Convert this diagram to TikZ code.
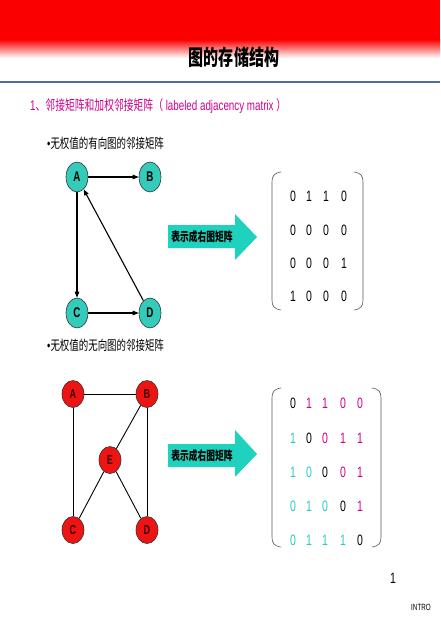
\documentclass[tikz,border=0pt]{standalone}
\usepackage{fontspec}
\setmainfont[FakeStretch=0.7]{Liberation Sans}
\newfontfamily\cjk[FakeStretch=0.7]{Noto Sans CJK SC}
\usetikzlibrary{shapes.geometric,arrows.meta}
\definecolor{hdred}{RGB}{250,0,0}
\definecolor{rule}{RGB}{80,105,170}
\definecolor{mag}{RGB}{204,0,140}
\definecolor{tealfill}{RGB}{51,204,187}
\definecolor{tealarrow}{RGB}{30,210,190}
\definecolor{tealtxt}{RGB}{40,200,200}
\definecolor{redfill}{RGB}{238,20,20}
\tikzset{
  dnode/.style={ellipse,draw=black!80,line width=0.6pt,fill=tealfill,minimum width=22pt,minimum height=30pt,inner sep=0pt,font=\bfseries\fontsize{14}{14}\selectfont},
  unode/.style={ellipse,draw=black!80,line width=0.6pt,fill=redfill,minimum width=22pt,minimum height=27pt,inner sep=0pt,font=\bfseries\fontsize{13}{13}\selectfont,text=black!75!red},
  dedge/.style={line width=1.1pt,-{Triangle[length=6pt,width=4.5pt]}},
  uedge/.style={line width=0.9pt},
  bullettxt/.style={anchor=west,inner sep=0pt,font=\fontsize{13.5}{13.5}\selectfont},
  arrowtxt/.style={inner sep=0pt,font=\cjk\bfseries\fontsize{12.5}{12.5}\selectfont},
  mat/.style={inner sep=0pt,font=\fontsize{15}{15}\selectfont},
  bracket/.style={draw=black!65,line width=0.6pt},
  blockarrow/.style={fill=tealarrow}
}
\begin{document}
\begin{tikzpicture}[x=1pt,y=-1pt]
\useasboundingbox (0,0) rectangle (440,620);
\fill[white] (0,0) rectangle (440,620);
% header
\fill[hdred] (0,0) rectangle (440,40);
\shade[top color=hdred,bottom color=white] (0,39.5) rectangle (440,58);
\node[inner sep=0pt,font=\cjk\bfseries\fontsize{21.5}{21.5}\selectfont] (title) at (234,57) {图的存储结构};
\draw[rule,line width=1.6pt] (0,82) -- (440,82);
\node[anchor=west,inner sep=0pt,text=mag,font=\fontsize{14}{14}\selectfont] (sub) at (30,106)
  {1{\cjk 、邻接矩阵和加权邻接矩阵（} labeled adjacency matrix {\cjk ）}};
% section 1
\node[bullettxt] (b1) at (47,143) {\textbullet{\cjk 无权值的有向图的邻接矩阵}};
\node[dnode] (A) at (77,177) {A};
\node[dnode] (B) at (150,177) {B};
\node[dnode] (C) at (77,313) {C};
\node[dnode] (D) at (150,313) {D};
\draw[dedge] (A) -- (B);
\draw[dedge] (A) -- (C);
\draw[dedge] (C) -- (D);
\draw[dedge] (D) -- (A);
\fill[blockarrow] (168,225) -- (235,225) -- (235,214) -- (257,237) -- (235,260) -- (235,248) -- (168,248) -- cycle;
\node[arrowtxt] (t1) at (202,236.5) {表示成右图矩阵};
\draw[bracket] (281,172) .. controls (274,173) and (272,176) .. (272,182) -- (272,300) .. controls (272,306) and (274,309) .. (281,310);
\draw[bracket] (354,172) .. controls (361,173) and (363,176) .. (363,182) -- (363,300) .. controls (363,306) and (361,309) .. (354,310);
\foreach \r/\y/\a/\b/\c/\d in {1/196/0/1/1/0, 2/230/0/0/0/0, 3/263/0/0/0/1, 4/296/1/0/0/0}{
  \node[mat] (m1-\r-1) at (293,\y) {\a};
  \node[mat] (m1-\r-2) at (309,\y) {\b};
  \node[mat] (m1-\r-3) at (326,\y) {\c};
  \node[mat] (m1-\r-4) at (344,\y) {\d};
}
% section 2
\node[bullettxt] (b2) at (47,345) {\textbullet{\cjk 无权值的无向图的邻接矩阵}};
\node[unode] (uA) at (73,394) {A};
\node[unode] (uB) at (147,394) {B};
\node[unode] (uE) at (110,460) {E};
\node[unode] (uC) at (73,530) {C};
\node[unode] (uD) at (147,530) {D};
\draw[uedge] (uA) -- (uB);
\draw[uedge] (uA) -- (uC);
\draw[uedge] (uB) -- (uD);
\draw[uedge] (uB) -- (uE);
\draw[uedge] (uE) -- (uC);
\draw[uedge] (uE) -- (uD);
\fill[blockarrow] (168,444) -- (235,444) -- (235,430) -- (257,454) -- (235,477) -- (235,467) -- (168,467) -- cycle;
\node[arrowtxt] (t2) at (202,455.5) {表示成右图矩阵};
\draw[bracket] (281,388) .. controls (274,389) and (272,392) .. (272,398) -- (272,537) .. controls (272,543) and (274,546) .. (281,547);
\draw[bracket] (372,388) .. controls (379,389) and (381,392) .. (381,398) -- (381,537) .. controls (381,543) and (379,546) .. (372,547);
% row 1
\node[mat,text=black] (m2-1-1) at (293,403) {0};
\node[mat,text=mag] (m2-1-2) at (309,403) {1};
\node[mat,text=mag] (m2-1-3) at (325,403) {1};
\node[mat,text=mag] (m2-1-4) at (343,403) {0};
\node[mat,text=mag] (m2-1-5) at (360,403) {0};
% row 2
\node[mat,text=tealtxt] (m2-2-1) at (293,438) {1};
\node[mat,text=black] (m2-2-2) at (309,438) {0};
\node[mat,text=mag] (m2-2-3) at (325,438) {0};
\node[mat,text=mag] (m2-2-4) at (343,438) {1};
\node[mat,text=mag] (m2-2-5) at (360,438) {1};
% row 3
\node[mat,text=tealtxt] (m2-3-1) at (293,472) {1};
\node[mat,text=tealtxt] (m2-3-2) at (309,472) {0};
\node[mat,text=black] (m2-3-3) at (325,472) {0};
\node[mat,text=mag] (m2-3-4) at (343,472) {0};
\node[mat,text=mag] (m2-3-5) at (360,472) {1};
% row 4
\node[mat,text=tealtxt] (m2-4-1) at (293,506) {0};
\node[mat,text=tealtxt] (m2-4-2) at (309,506) {1};
\node[mat,text=tealtxt] (m2-4-3) at (325,506) {0};
\node[mat,text=black] (m2-4-4) at (343,506) {0};
\node[mat,text=mag] (m2-4-5) at (360,506) {1};
% row 5
\node[mat,text=tealtxt] (m2-5-1) at (293,540) {0};
\node[mat,text=tealtxt] (m2-5-2) at (309,540) {1};
\node[mat,text=tealtxt] (m2-5-3) at (325,540) {1};
\node[mat,text=tealtxt] (m2-5-4) at (343,540) {1};
\node[mat,text=black] (m2-5-5) at (360,540) {0};
% footer
\node[inner sep=0pt,font=\fontsize{15}{15}\selectfont] (pg) at (393,578) {1};
\node[inner sep=0pt,font=\fontsize{9}{9}\selectfont] (intro) at (421,607) {INTRO};
\end{tikzpicture}
\end{document}
